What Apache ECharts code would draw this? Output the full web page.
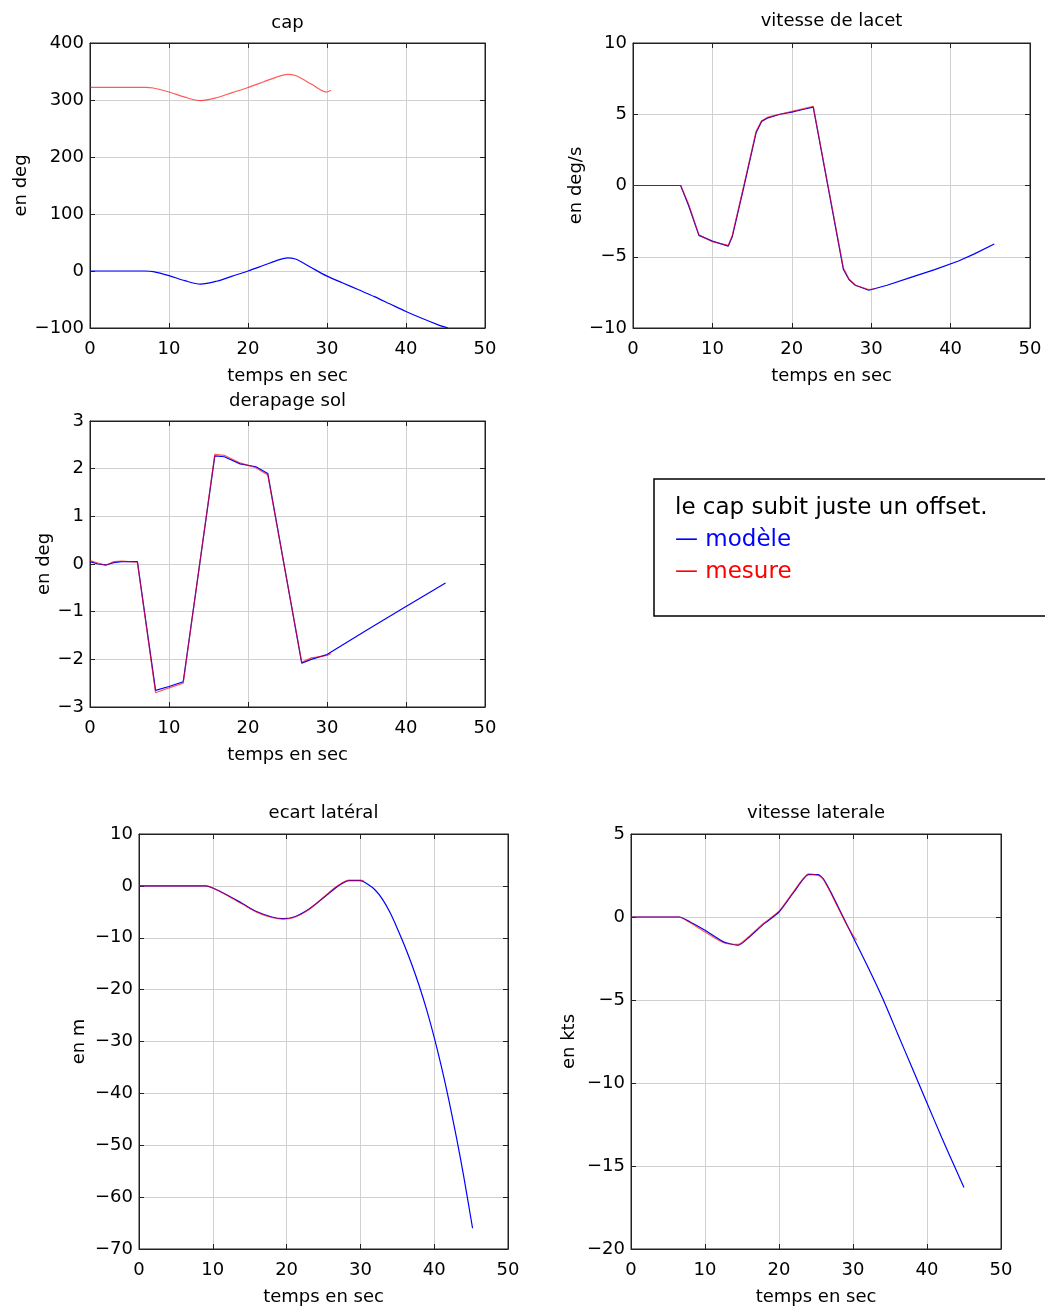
<!DOCTYPE html>
<html>
<head>
<meta charset="utf-8">
<script src="https://cdn.jsdelivr.net/npm/echarts@6/dist/echarts.min.js"></script>
<style>
html,body{margin:0;padding:0;background:#fff;}
#c{width:1045px;height:1307px;}
</style>
</head>
<body>
<div id="c"></div>
<script>
// ---------- DATA ----------
var xTicks = [0, 10, 20, 30, 40, 50];

// cap
var capT_modele = [0, 7, 8, 10, 12, 14, 16, 18, 20, 22, 24, 25, 26, 27, 28, 30, 32, 34, 36, 38, 40, 42, 44, 45.3];
var capModele   = [0, 0, -1, -8, -17, -23, -18, -9, 0, 10, 20, 23, 21, 14, 6, -9, -21, -33, -45, -58, -71, -83, -94, -100];
var capT_mesure = [0, 7, 8, 10, 12, 14, 16, 18, 20, 22, 24, 25, 26, 27, 28, 30, 30.5];
var capMesure   = [322, 322, 321, 314, 305, 299, 304, 313, 322, 332, 342, 345, 343, 336, 328, 314, 317];

// vitesse de lacet
var lacT_modele = [0, 6, 7, 8.3, 10, 12, 12.5, 14, 15.5, 16.2, 17, 18.5, 20, 21.5, 22.7, 26.5, 27.2, 28, 29.7, 32, 35, 38, 41, 43, 45.5];
var lacModele   = [0, 0, -1.4, -3.5, -3.9, -4.25, -3.6, 0, 3.7, 4.5, 4.75, 5.0, 5.15, 5.35, 5.5, -5.9, -6.6, -7.0, -7.35, -7.0, -6.45, -5.9, -5.3, -4.8, -4.1];
var lacT_mesure = [0, 6, 7, 8.3, 10, 12, 12.5, 14, 15.5, 16.2, 17, 18.5, 20, 21.5, 22.7, 26.5, 27.2, 28, 29.7, 30.5];
var lacMesure   = [0, 0, -1.3, -3.45, -3.95, -4.2, -3.5, 0.1, 3.8, 4.55, 4.8, 5.0, 5.2, 5.4, 5.55, -5.8, -6.55, -7.0, -7.3, -7.25];

// derapage sol
var derT_modele = [0, 1, 2, 3, 4, 6, 8.3, 10, 11.8, 15.8, 17, 19, 21, 22.5, 26.8, 28, 30, 35, 40, 45];
var derModele   = [0.05, 0, -0.02, 0.03, 0.05, 0.05, -2.65, -2.57, -2.47, 2.27, 2.25, 2.1, 2.04, 1.9, -2.08, -2.0, -1.9, -1.39, -0.89, -0.4];
var derT_mesure = [0, 1, 2, 3, 4, 6, 8.3, 10, 11.8, 15.8, 17, 19, 21, 22.5, 26.8, 28, 30, 30.5];
var derMesure   = [0.07, 0.02, -0.03, 0.05, 0.06, 0.04, -2.7, -2.6, -2.5, 2.3, 2.28, 2.12, 2.02, 1.87, -2.06, -1.97, -1.92, -1.88];

// ecart lateral
var ecT_modele = [0, 9, 10, 12, 14, 16, 18, 19.5, 21, 23, 25, 27, 28.5, 30, 31, 32, 33, 34, 35, 36, 37, 38, 39, 40, 41, 42, 43, 44, 45.2];
var ecModele   = [0, 0, -0.4, -1.8, -3.4, -5, -6, -6.3, -6, -4.5, -2.3, 0, 1, 1, 0.3, -0.8, -2.6, -5.1, -8.2, -11.6, -15.3, -19.4, -24.0, -29.2, -35.0, -41.4, -48.4, -56.0, -66.0];
var ecT_mesure = [0, 9, 10, 12, 14, 16, 18, 19.5, 21, 23, 25, 27, 28.5, 30, 30.5];
var ecMesure   = [0, 0, -0.4, -1.9, -3.5, -5.1, -6.1, -6.4, -6.1, -4.6, -2.2, 0.1, 1.1, 1.1, 0.9];

// vitesse laterale
var vlT_modele = [0, 6.5, 8, 10, 12.5, 14.5, 16, 18, 20, 22, 24, 25.3, 26, 27, 28, 29, 30, 32, 34, 36, 38, 40, 42, 44, 45];
var vlModele   = [0, 0, -0.3, -0.8, -1.5, -1.7, -1.2, -0.4, 0.3, 1.5, 2.55, 2.55, 2.3, 1.5, 0.6, -0.3, -1.2, -3.0, -4.9, -7.0, -9.1, -11.2, -13.3, -15.3, -16.3];
var vlT_mesure = [0, 6.5, 8, 10, 12.5, 14.5, 16, 18, 20, 22, 24, 25.3, 26, 27, 28, 29, 30, 30.5];
var vlMesure   = [0, 0, -0.35, -0.9, -1.55, -1.65, -1.15, -0.35, 0.35, 1.55, 2.6, 2.5, 2.25, 1.45, 0.55, -0.35, -1.1, -1.4];

// ---------- CHART ----------
function pairs(t, v) { return t.map(function (x, i) { return [x, v[i]]; }); }
function minusFmt(v) { return String(v).replace('-', '\u2212'); }

var FONT = 'DejaVu Sans';
var FS = 18;
var BLUE = '#0000ff', RED = '#ff0000';
var GRIDC = '#d0d0d0', AXC = '#222';

var panels = [
  { title: 'cap', yname: 'en deg', grid: { left: 90, top: 43, width: 395, height: 285 }, ymin: -100, ymax: 400, yint: 100, ygap: 57, titleTop: 14,
    m: pairs(capT_modele, capModele), r: pairs(capT_mesure, capMesure), smooth: 0.3 },
  { title: 'vitesse de lacet', yname: 'en deg/s', grid: { left: 633, top: 43, width: 397, height: 285 }, ymin: -10, ymax: 10, yint: 5, ygap: 48, titleTop: 12,
    m: pairs(lacT_modele, lacModele), r: pairs(lacT_mesure, lacMesure), smooth: false },
  { title: 'derapage sol', yname: 'en deg', grid: { left: 90, top: 421, width: 395, height: 286 }, ymin: -3, ymax: 3, yint: 1, ygap: 37, titleTop: 392,
    m: pairs(derT_modele, derModele), r: pairs(derT_mesure, derMesure), smooth: false },
  { title: 'ecart latéral', yname: 'en m', grid: { left: 139, top: 834, width: 369, height: 415 }, ymin: -70, ymax: 10, yint: 10, ygap: 51, titleTop: 804,
    m: pairs(ecT_modele, ecModele), r: pairs(ecT_mesure, ecMesure), smooth: 0.3 },
  { title: 'vitesse laterale', yname: 'en kts', grid: { left: 631, top: 834, width: 370, height: 415 }, ymin: -20, ymax: 5, yint: 5, ygap: 53, titleTop: 804,
    m: pairs(vlT_modele, vlModele), r: pairs(vlT_mesure, vlMesure), smooth: 0.2 }
];

var option = {
  backgroundColor: '#fff',
  animation: false,
  textStyle: { fontFamily: FONT },
  title: [], grid: [], xAxis: [], yAxis: [], series: [],
  graphic: [
    { type: 'rect', shape: { x: 654, y: 479, width: 420, height: 137 },
      style: { fill: '#fff', stroke: '#000', lineWidth: 1.5 }, z: 10 },
    { type: 'text', x: 675, y: 492, z: 11,
      style: {
        text: '{k|le cap subit juste un offset.}\n{b|— modèle}\n{r|— mesure}',
        fontFamily: FONT, fontSize: 23, lineHeight: 32, verticalAlign: 'top',
        rich: {
          k: { fill: '#000', fontFamily: FONT, fontSize: 23, lineHeight: 32 },
          b: { fill: BLUE, fontFamily: FONT, fontSize: 23, lineHeight: 32 },
          r: { fill: RED, fontFamily: FONT, fontSize: 23, lineHeight: 32 }
        }
      } }
  ]
};

panels.forEach(function (p, i) {
  var g = p.grid;
  option.title.push({
    text: p.title, left: g.left + g.width / 2, top: p.titleTop, textAlign: 'center', padding: 0,
    textStyle: { fontFamily: FONT, fontSize: FS, fontWeight: 'normal', color: '#000' }
  });
  option.grid.push({ left: g.left, top: g.top, width: g.width, height: g.height, show: true,
    borderColor: AXC, borderWidth: 1, backgroundColor: 'transparent', containLabel: false });
  // bottom x axis (primary)
  option.xAxis.push({
    type: 'value', gridIndex: i, position: 'bottom', min: 0, max: 50, interval: 10,
    name: 'temps en sec', nameLocation: 'middle', nameGap: 39,
    nameTextStyle: { fontFamily: FONT, fontSize: FS, color: '#000' },
    axisLine: { show: true, onZero: false, lineStyle: { color: AXC, width: 1 } },
    axisTick: { show: true, inside: true, length: 5, lineStyle: { color: AXC } },
    axisLabel: { margin: 12, fontFamily: FONT, fontSize: FS, color: '#000' },
    splitLine: { show: true, lineStyle: { color: GRIDC, width: 1 } }
  });
  // top x axis (ticks only)
  option.xAxis.push({
    type: 'value', gridIndex: i, position: 'top', min: 0, max: 50, interval: 10,
    axisLine: { show: true, onZero: false, lineStyle: { color: AXC, width: 1 } },
    axisTick: { show: true, inside: true, length: 5, lineStyle: { color: AXC } },
    axisLabel: { show: false }, splitLine: { show: false }
  });
  // left y axis (primary)
  option.yAxis.push({
    type: 'value', gridIndex: i, position: 'left', min: p.ymin, max: p.ymax, interval: p.yint,
    name: p.yname, nameLocation: 'middle', nameGap: p.ygap, nameRotate: 90,
    nameTextStyle: { fontFamily: FONT, fontSize: FS, color: '#000' },
    axisLine: { show: true, onZero: false, lineStyle: { color: AXC, width: 1 } },
    axisTick: { show: true, inside: true, length: 5, lineStyle: { color: AXC } },
    axisLabel: { margin: 6, fontFamily: FONT, fontSize: FS, color: '#000', formatter: minusFmt },
    splitLine: { show: true, lineStyle: { color: GRIDC, width: 1 } }
  });
  // right y axis (ticks only)
  option.yAxis.push({
    type: 'value', gridIndex: i, position: 'right', min: p.ymin, max: p.ymax, interval: p.yint,
    axisLine: { show: true, onZero: false, lineStyle: { color: AXC, width: 1 } },
    axisTick: { show: true, inside: true, length: 5, lineStyle: { color: AXC } },
    axisLabel: { show: false }, splitLine: { show: false }
  });
  option.series.push({
    name: 'modèle', type: 'line', xAxisIndex: 2 * i, yAxisIndex: 2 * i, data: p.m, smooth: p.smooth,
    showSymbol: false, symbol: 'none', lineStyle: { color: BLUE, width: 1.2 }, z: 3
  });
  option.series.push({
    name: 'mesure', type: 'line', xAxisIndex: 2 * i, yAxisIndex: 2 * i, data: p.r, smooth: p.smooth,
    showSymbol: false, symbol: 'none', lineStyle: { color: RED, width: 1.2, opacity: 0.65 }, z: 4
  });
});

var chart = echarts.init(document.getElementById('c'), null, { renderer: 'canvas' });
chart.setOption(option);
</script>
</body>
</html>
